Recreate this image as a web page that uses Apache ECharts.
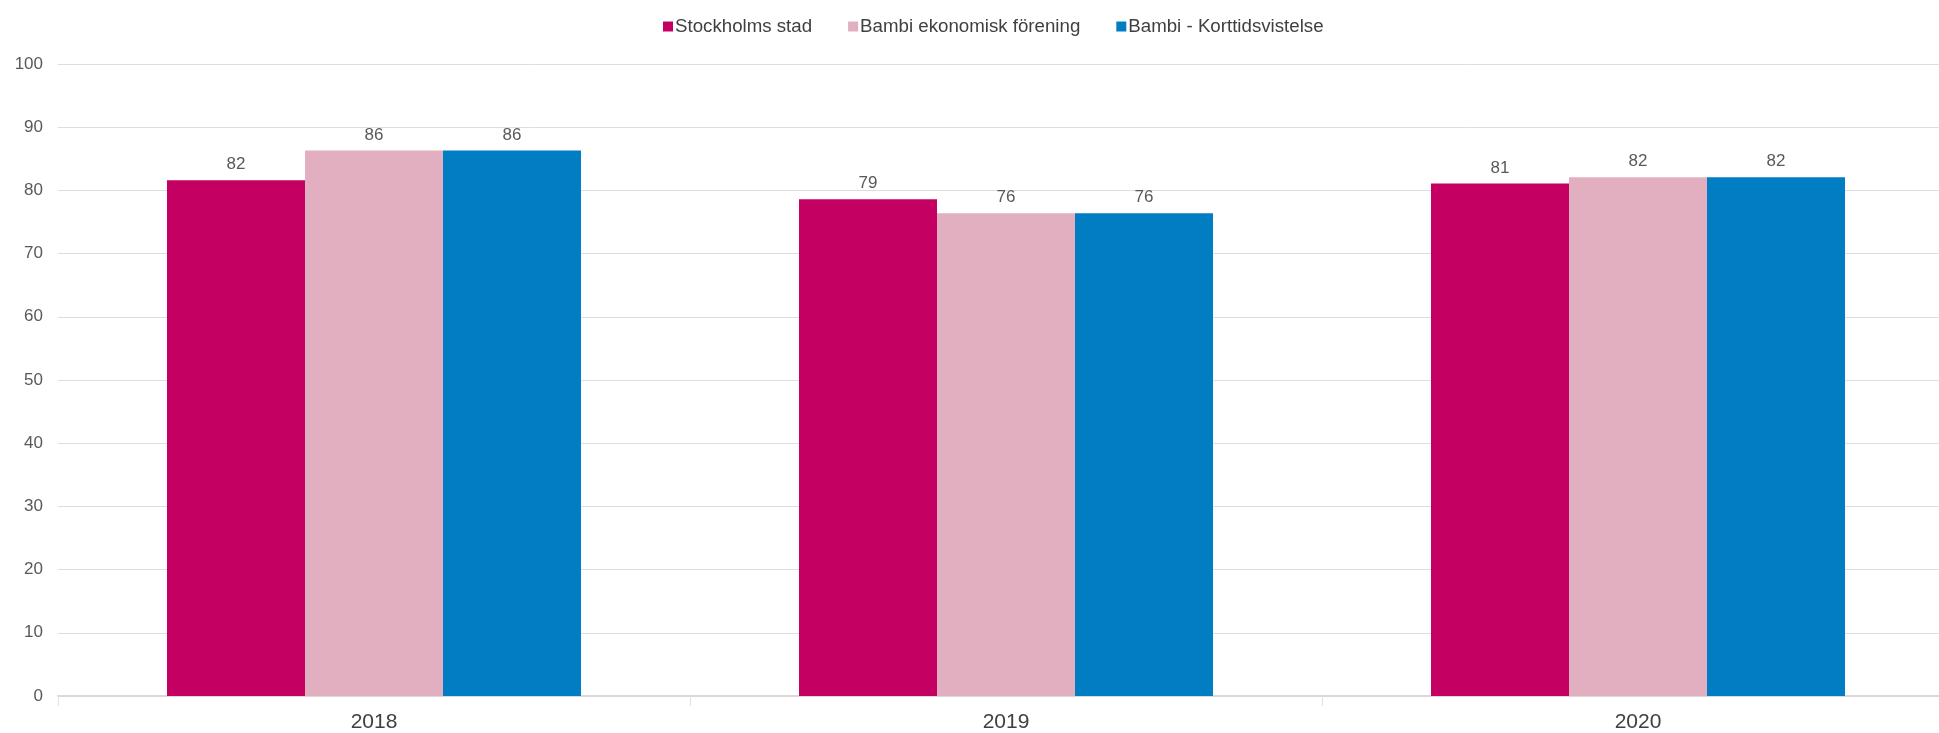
<!DOCTYPE html>
<html>
<head>
<meta charset="utf-8">
<script src="https://cdn.jsdelivr.net/npm/echarts@6/dist/echarts.min.js"></script>
<style>
  html, body { margin: 0; padding: 0; background: #fff; }
  #chartmain { width: 1939px; height: 733px; }
</style>
</head>
<body>
<div id="chartmain"></div>
<script>
// data
var years = ['2018', '2019', '2020'];
var seriesNames = ['Stockholms stad', 'Bambi ekonomisk förening', 'Bambi - Korttidsvistelse'];
var stockholm = [81.6, 78.6, 81.1];
var bambiEk = [86.3, 76.4, 82.1];
var bambiKort = [86.3, 76.4, 82.1];
var colors = ['#C40063', '#E2AFC0', '#007DC3'];

var font = '"Liberation Sans", Arial, sans-serif';

function makeSeries(name, values, color) {
    return {
        name: name,
        type: 'bar',
        data: values,
        barWidth: 138,
        barGap: '0%',
        itemStyle: { color: color },
        label: {
            show: true,
            position: 'top',
            distance: 7,
            color: '#595959',
            fontFamily: font,
            fontSize: 17,
            formatter: function (p) { return Math.round(p.value); }
        }
    };
}

var myChart = echarts.init(document.getElementById('chartmain'));

var option = {
    animation: false,
    color: colors,
    legend: {
        top: 12,
        left: 658,
        icon: 'rect',
        itemWidth: 10,
        itemHeight: 10,
        itemGap: 36,
        textStyle: { color: '#404040', fontFamily: font, fontSize: 18.7, padding: [0, 0, 0, -3] },
        data: seriesNames
    },
    // plot runs a little past the right edge, like the original
    grid: { left: 58, right: -15, top: 64, bottom: 37, containLabel: false, outerBoundsMode: 'none' },
    xAxis: {
        type: 'category',
        data: years,
        axisLine: { lineStyle: { color: '#d9d9d9', width: 2 } },
        axisTick: { show: true, alignWithLabel: false, length: 10, lineStyle: { color: '#e0e0e0' } },
        axisLabel: { color: '#404040', fontFamily: font, fontSize: 21, margin: 16 }
    },
    yAxis: {
        type: 'value',
        min: 0,
        max: 100,
        interval: 10,
        axisLine: { show: false },
        axisTick: { show: false },
        axisLabel: { color: '#595959', fontFamily: font, fontSize: 17, margin: 15 },
        splitLine: { lineStyle: { color: '#dedede', width: 1 } }
    },
    series: [
        makeSeries(seriesNames[0], stockholm, colors[0]),
        makeSeries(seriesNames[1], bambiEk, colors[1]),
        makeSeries(seriesNames[2], bambiKort, colors[2])
    ]
};

myChart.setOption(option);
</script>
</body>
</html>
